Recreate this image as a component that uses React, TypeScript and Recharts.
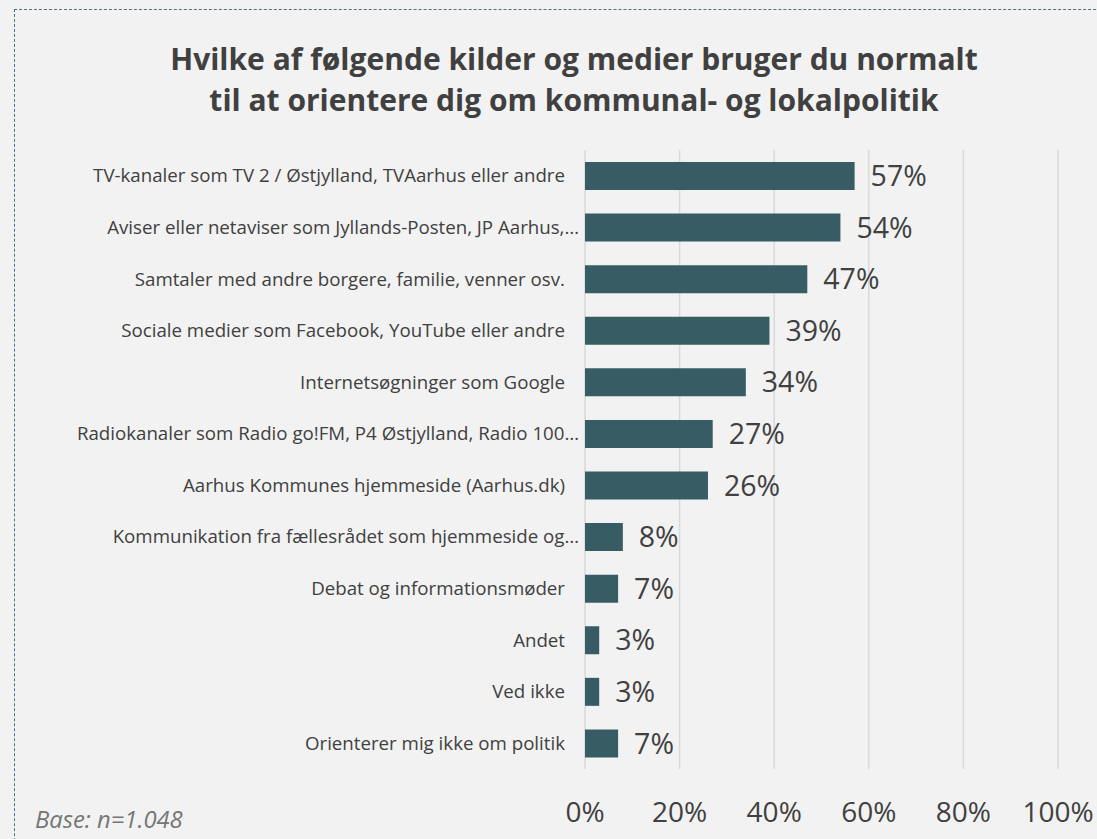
import { BarChart, Bar, XAxis, YAxis, CartesianGrid, LabelList } from 'recharts';

const CATEGORIES = [
  'TV-kanaler som TV 2 / Østjylland, TVAarhus eller andre',
  'Aviser eller netaviser som Jyllands-Posten, JP Aarhus,…',
  'Samtaler med andre borgere, familie, venner osv.',
  'Sociale medier som Facebook, YouTube eller andre',
  'Internetsøgninger som Google',
  'Radiokanaler som Radio go!FM, P4 Østjylland, Radio 100…',
  'Aarhus Kommunes hjemmeside (Aarhus.dk)',
  'Kommunikation fra fællesrådet som hjemmeside og…',
  'Debat og informationsmøder',
  'Andet',
  'Ved ikke',
  'Orienterer mig ikke om politik',
];

const VALUES = [57, 54, 47, 39, 34, 27, 26, 8, 7, 3, 3, 7];

const X_TICKS = [0, 20, 40, 60, 80, 100];

const TITLE_LINES = [
  'Hvilke af følgende kilder og medier bruger du normalt',
  'til at orientere dig om kommunal- og lokalpolitik',
];

const BASE_NOTE = 'Base: n=1.048';

const FONT = '"Open Sans", sans-serif';
const TEXT = '#404040';
const BAR = '#375c64';

const data = CATEGORIES.map((name, i) => ({ name, value: VALUES[i] }));

function CategoryTick(props: any) {
  const { y, payload } = props;
  const label: string = payload.value;
  // Excel lets the ellipsis of cut labels run a little past the text column
  const x = label.endsWith('…') ? 579 : 565;
  return (
    <text x={x} y={y} dy="0.35em" textAnchor="end" fill={TEXT} fontSize={18.7} fontFamily={FONT}>
      {label}
    </text>
  );
}

function PercentTick(props: any) {
  const { x, payload } = props;
  return (
    <text x={x} y={812} dy="0.35em" textAnchor="middle" fill={TEXT} fontSize={28} fontFamily={FONT}>
      {`${payload.value}%`}
    </text>
  );
}

export default function App() {
  return (
    <div
      style={{
        position: 'fixed',
        left: 0,
        top: 0,
        width: 1097,
        height: 839,
        background: '#f2f2f2',
        overflow: 'hidden',
        fontFamily: FONT,
      }}
    >
      <div
        style={{
          position: 'absolute',
          left: 14,
          top: 9,
          width: 1200,
          height: 1000,
          border: '1.5px dashed #4b7480',
        }}
      />
      {TITLE_LINES.map((line, i) => (
        <div
          key={line}
          style={{
            position: 'absolute',
            left: 74,
            width: 1000,
            top: 38 + i * 41,
            textAlign: 'center',
            fontSize: 30,
            fontWeight: 700,
            color: TEXT,
            lineHeight: '41px',
            whiteSpace: 'nowrap',
          }}
        >
          {line}
        </div>
      ))}
      <div
        style={{
          position: 'absolute',
          left: 35,
          top: 805,
          fontSize: 23.8,
          fontStyle: 'italic',
          color: '#767676',
          lineHeight: '28px',
        }}
      >
        {BASE_NOTE}
      </div>
      <div style={{ position: 'absolute', left: 0, top: 0 }}>
        <BarChart
          width={1097}
          height={839}
          data={data}
          layout="vertical"
          margin={{ top: 150, right: 39, bottom: 0, left: 0 }}
        >
          <CartesianGrid horizontal={false} stroke="#d9d9d9" strokeWidth={1.5} />
          <XAxis
            type="number"
            domain={[0, 100]}
            ticks={X_TICKS}
            axisLine={false}
            tickLine={false}
            height={70}
            tick={<PercentTick />}
            interval={0}
          />
          <YAxis
            type="category"
            dataKey="name"
            width={585}
            axisLine={false}
            tickLine={false}
            interval={0}
            tick={<CategoryTick />}
          />
          <Bar dataKey="value" fill={BAR} barSize={28} isAnimationActive={false}>
            <LabelList
              dataKey="value"
              position="right"
              offset={16}
              formatter={(v: any) => `${v}%`}
              fill={TEXT}
              fontSize={28.5}
              fontFamily={FONT}
            />
          </Bar>
        </BarChart>
      </div>
    </div>
  );
}
